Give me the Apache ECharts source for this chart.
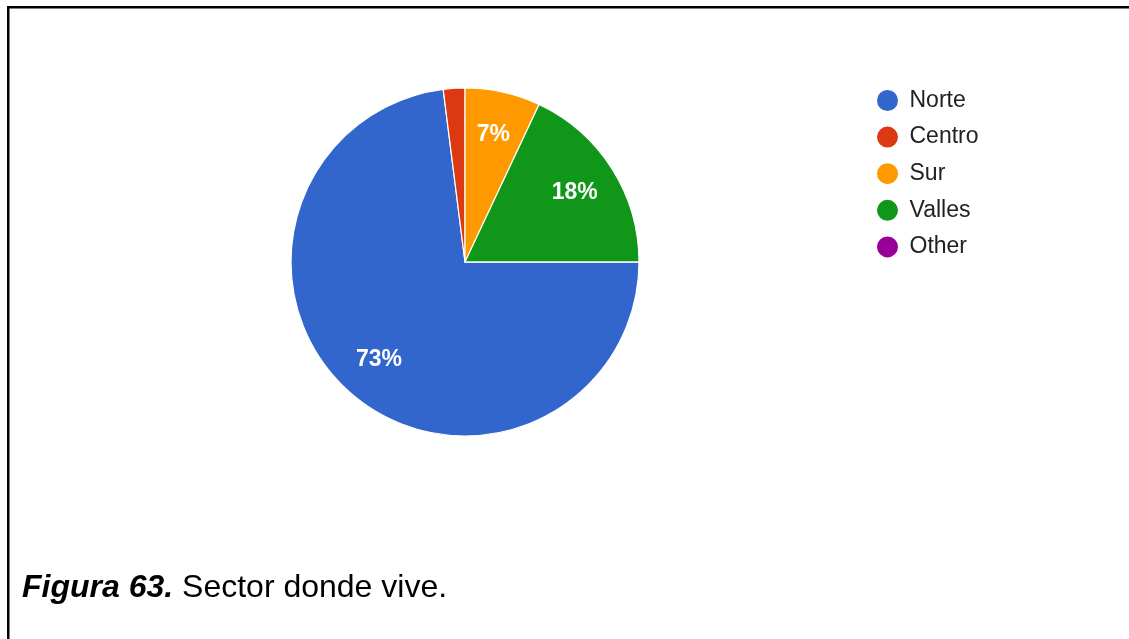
<!DOCTYPE html>
<html>
<head>
<meta charset="utf-8">
<style>
  html, body { margin: 0; padding: 0; background: #fff; }
  #chart { width: 1129px; height: 639px; }
</style>
<script src="https://cdn.jsdelivr.net/npm/echarts@6/dist/echarts.min.js"></script>
</head>
<body>
<div id="chart"></div>
<script>
// Where respondents live (share of answers per sector)
const categories = ['Norte', 'Centro', 'Sur', 'Valles', 'Other'];
const values = [73, 2, 7, 18, 0];
const caption = ['Figura 63.', ' Sector donde vive.'];

const palette = ['#3366cc', '#dc3912', '#ff9900', '#109618', '#990099'];
const font = 'Arial, "Liberation Sans", sans-serif';
const cx = 465, cy = 262, R = 174;

// slices too thin for a readable percentage stay unlabelled
const minLabelled = 5;

const sliceData = categories.map((name, i) => ({
  name,
  value: values[i],
  itemStyle: { color: palette[i] }
}));

const labelData = categories.map((name, i) => ({
  name,
  value: values[i],
  label: { show: values[i] >= minLabelled }
}));

const chart = echarts.init(document.getElementById('chart'), null, { renderer: 'canvas' });

chart.setOption({
  animation: false,
  backgroundColor: '#ffffff',
  title: {
    left: 22,
    top: 572,
    padding: 0,
    text: '{b|' + caption[0] + '}{n|' + caption[1] + '}',
    textStyle: {
      fontWeight: 'normal',
      rich: {
        b: { fontFamily: font, fontSize: 32, fontWeight: 'bold', fontStyle: 'italic', color: '#000' },
        n: { fontFamily: font, fontSize: 32, fontWeight: 'normal', fontStyle: 'normal', color: '#000' }
      }
    }
  },
  legend: {
    orient: 'vertical',
    left: 870,
    top: 83,
    icon: 'circle',
    itemWidth: 34,
    itemHeight: 23,
    itemGap: 11.6,
    data: categories,
    textStyle: { fontFamily: font, fontSize: 23, color: '#222' }
  },
  graphic: [
    // frame edges along the top and left of the figure
    { type: 'rect', shape: { x: 7, y: 6, width: 1122, height: 2.5 }, style: { fill: '#000' }, silent: true },
    { type: 'rect', shape: { x: 7, y: 6, width: 2.5, height: 633 }, style: { fill: '#000' }, silent: true }
  ],
  series: [
    {
      type: 'pie',
      center: [cx, cy],
      radius: [0, R],
      startAngle: 0,
      clockwise: true,
      minAngle: 0,
      avoidLabelOverlap: false,
      label: { show: false },
      labelLine: { show: false },
      emphasis: { disabled: true },
      itemStyle: { borderColor: '#ffffff', borderWidth: 1.2 },
      data: sliceData
    },
    {
      // transparent ring that carries the percentage labels at ~0.73 R
      type: 'pie',
      center: [cx, cy],
      radius: [80, R],
      startAngle: 0,
      clockwise: true,
      silent: true,
      legendHoverLink: false,
      avoidLabelOverlap: false,
      emphasis: { disabled: true },
      itemStyle: { color: 'rgba(0,0,0,0)', borderWidth: 0 },
      labelLine: { show: false },
      label: {
        position: 'inside',
        formatter: '{d}%',
        fontFamily: font,
        fontSize: 23,
        fontWeight: 'bold',
        color: '#ffffff'
      },
      percentPrecision: 0,
      data: labelData
    }
  ]
});
</script>
</body>
</html>
